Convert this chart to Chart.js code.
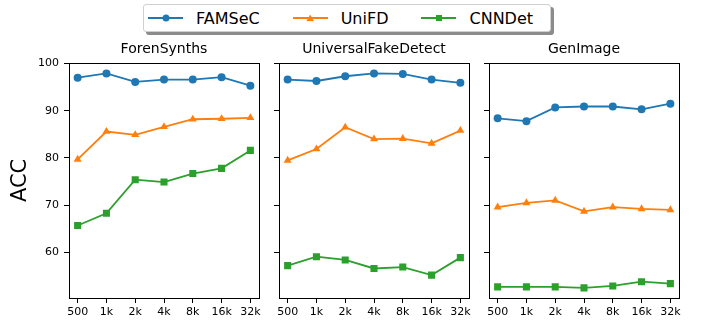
<!DOCTYPE html>
<html>
<head>
<meta charset="utf-8">
<script src="https://cdn.jsdelivr.net/npm/chart.js@4"></script>
<style>
  body { margin: 0; background: #fff; width: 707px; height: 321px; overflow: hidden; position: relative; font-family: "DejaVu Sans", sans-serif; }
  .panel { position: absolute; top: 36px; height: 285px; }
  #legend {
    position: absolute; left: 143px; top: 4px; height: 28px; width: 408px;
    border: 1px solid #d0d0d0; border-radius: 3px; background: #fff;
    box-shadow: 3px 3px 0 #8c8c8c;
    display: flex; align-items: center; box-sizing: border-box; padding-left: 4px;
  }
  .legend-item { display: flex; align-items: center; margin-right: 33px; }
  .legend-handle { position: relative; width: 35px; height: 2px; margin-right: 13px; }
  .legend-marker { position: absolute; left: 50%; top: 50%; transform: translate(-50%, -50%); }
  .legend-item span { font-size: 16px; color: #000; }
</style>
</head>
<body>
<div id="legend"></div>
<div class="panel" id="p0" style="left:0px;width:271px"><canvas id="c0"></canvas></div>
<div class="panel" id="p1" style="left:269px;width:212px"><canvas id="c1"></canvas></div>
<div class="panel" id="p2" style="left:479px;width:212px"><canvas id="c2"></canvas></div>
<script>
const categories = ["500", "1k", "2k", "4k", "8k", "16k", "32k"];
const panelTitles = ["ForenSynths", "UniversalFakeDetect", "GenImage"];
const seriesNames = ["FAMSeC", "UniFD", "CNNDet"];
const seriesColors = ["#1f77b4", "#ff7f0e", "#2ca02c"];
const yTicks = [60, 70, 80, 90, 100];

// ForenSynths
const famsecForen = [97.0, 97.9, 96.1, 96.6, 96.6, 97.1, 95.3];
const unifdForen = [79.7, 85.6, 84.9, 86.6, 88.2, 88.3, 88.5];
const cnndetForen = [65.7, 68.3, 75.4, 74.9, 76.7, 77.8, 81.6];

// UniversalFakeDetect
const famsecUfd = [96.6, 96.3, 97.3, 97.9, 97.8, 96.6, 95.9];
const unifdUfd = [79.5, 81.9, 86.5, 84.0, 84.1, 83.1, 85.8];
const cnndetUfd = [57.2, 59.1, 58.4, 56.6, 56.9, 55.2, 58.9];

// GenImage
const famsecGen = [88.4, 87.8, 90.7, 90.9, 90.9, 90.3, 91.5];
const unifdGen = [69.6, 70.5, 71.0, 68.7, 69.6, 69.2, 69.0];
const cnndetGen = [52.7, 52.7, 52.7, 52.5, 52.9, 53.8, 53.4];

const panelData = [
  [famsecForen, unifdForen, cnndetForen],
  [famsecUfd, unifdUfd, cnndetUfd],
  [famsecGen, unifdGen, cnndetGen]
];

const pointStyles = ["circle", "triangle", "rect"];
const pointSizes = [4, 4.6, 5];

const fontFamily = "'DejaVu Sans', sans-serif";

// draws the full box around the plot area like matplotlib spines
const framePlugin = {
  id: 'frame',
  afterDraw(chart) {
    const a = chart.chartArea;
    const c = chart.ctx;
    c.save();
    c.strokeStyle = '#000';
    c.lineWidth = 1;
    c.strokeRect(Math.round(a.left) + 0.5, Math.round(a.top) + 0.5,
                 Math.round(a.right - a.left), Math.round(a.bottom - a.top));
    c.restore();
  }
};

panelTitles.forEach((title, p) => {
  const datasets = panelData[p].map((values, s) => ({
    label: seriesNames[s],
    data: values.map((v, i) => ({ x: i, y: v })),
    borderColor: seriesColors[s],
    backgroundColor: seriesColors[s],
    borderWidth: 1.8,
    pointStyle: pointStyles[s],
    pointRadius: pointSizes[s],
    pointBorderWidth: 0,
    pointHoverRadius: pointSizes[s],
    tension: 0
  }));

  const first = p === 0;

  new Chart(document.getElementById('c' + p), {
    type: 'line',
    data: { datasets: datasets },
    options: {
      responsive: true,
      maintainAspectRatio: false,
      animation: false,
      layout: { padding: { top: 0, right: 12, bottom: 0, left: 0 } },
      plugins: {
        legend: { display: false },
        tooltip: { enabled: false },
        title: {
          display: true,
          fullSize: false,
          text: title,
          color: '#000',
          font: { family: fontFamily, size: 14, weight: 'normal' },
          padding: { top: 5, bottom: 5 }
        }
      },
      scales: {
        x: {
          type: 'linear',
          min: -0.3,
          max: 6.3,
          afterBuildTicks: scale => { scale.ticks = categories.map((c, i) => ({ value: i })); },
          afterFit: scale => { scale.height = 23; },
          ticks: {
            autoSkip: false,
            maxRotation: 0,
            padding: 3,
            color: '#000',
            font: { family: fontFamily, size: 11 },
            callback: value => categories[value]
          },
          grid: { drawOnChartArea: false, drawTicks: true, tickLength: 5, color: '#000' },
          border: { display: false }
        },
        y: {
          type: 'linear',
          min: 50.35,
          max: 100.15,
          afterBuildTicks: scale => { scale.ticks = yTicks.map(v => ({ value: v })); },
          afterFit: scale => { scale.width = first ? 69 : 10; },
          ticks: {
            display: first,
            padding: 5,
            color: '#000',
            font: { family: fontFamily, size: 11 }
          },
          grid: { drawOnChartArea: false, drawTicks: true, tickLength: 5, color: '#000' },
          border: { display: false },
          title: {
            display: first,
            text: 'ACC',
            color: '#000',
            font: { family: fontFamily, size: 21 },
            padding: { top: 8, bottom: 0 }
          }
        }
      }
    },
    plugins: [framePlugin]
  });
});

// legend built from the series names and colours
const legendContainer = document.getElementById('legend');
seriesNames.forEach((name, index) => {
  const item = document.createElement('div');
  item.classList.add('legend-item');

  const handle = document.createElement('div');
  handle.classList.add('legend-handle');
  handle.style.backgroundColor = seriesColors[index];

  const marker = document.createElement('div');
  marker.classList.add('legend-marker');
  marker.style.backgroundColor = seriesColors[index];
  if (pointStyles[index] === 'circle') {
    marker.style.width = '7px'; marker.style.height = '7px'; marker.style.borderRadius = '50%';
  } else if (pointStyles[index] === 'triangle') {
    marker.style.width = '8px'; marker.style.height = '7px';
    marker.style.clipPath = 'polygon(50% 0, 100% 100%, 0 100%)';
  } else {
    marker.style.width = '6px'; marker.style.height = '6px';
  }
  handle.appendChild(marker);

  const label = document.createElement('span');
  label.textContent = name;

  item.appendChild(handle);
  item.appendChild(label);
  legendContainer.appendChild(item);
});
</script>
</body>
</html>
